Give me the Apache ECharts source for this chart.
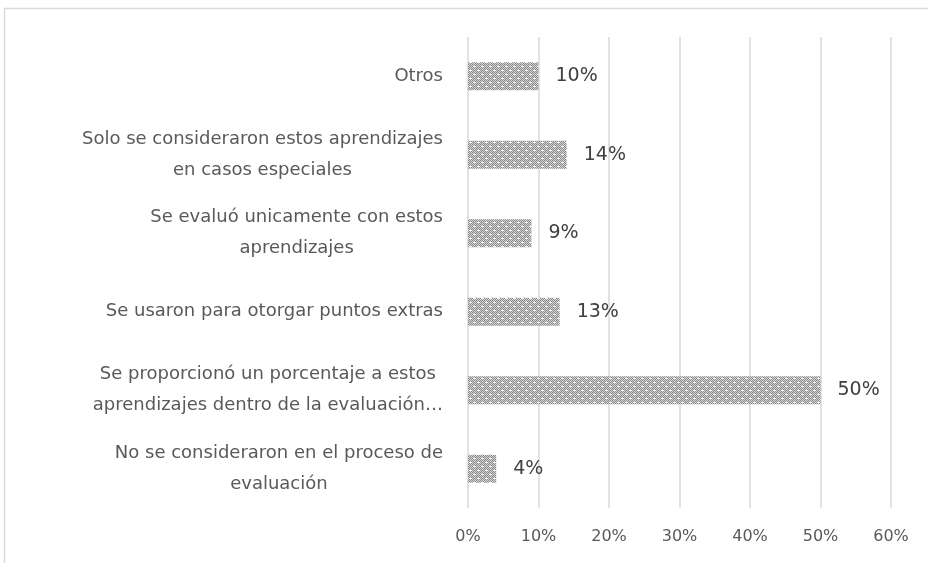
<!DOCTYPE html>
<html>
<head>
<meta charset="utf-8">
<script src="https://cdn.jsdelivr.net/npm/echarts@6/dist/echarts.min.js"></script>
<style>
html,body{margin:0;padding:0;background:#fff;}
#c{width:928px;height:563px;}
</style>
</head>
<body>
<div id="c"></div>
<script>
// Data (top to bottom as displayed)
var categories = [
  'No se consideraron en el proceso de\nevaluación',
  'Se proporcionó un porcentaje a estos\naprendizajes dentro de la evaluación…',
  'Se usaron para otorgar puntos extras',
  'Se evaluó unicamente con estos\naprendizajes',
  'Solo se consideraron estos aprendizajes\nen casos especiales',
  'Otros'
];
var values = [4, 50, 13, 9, 14, 10];
var xTicks = [0, 10, 20, 30, 40, 50, 60];

// pattern fill similar to Excel dotted pattern
function makePattern() {
  var cv = document.createElement('canvas');
  cv.width = 8; cv.height = 8;
  var ctx = cv.getContext('2d');
  for (var y = 0; y < 8; y++) {
    for (var x = 0; x < 8; x++) {
      ctx.fillStyle = ((x + y) % 2 === 0) ? '#8a8a8a' : '#d6d6d6';
      ctx.fillRect(x, y, 1, 1);
    }
  }
  ctx.fillStyle = '#ffffff';
  [[2,2],[1,2],[3,2],[6,6],[5,6],[7,6]].forEach(function(p){
    ctx.fillRect(p[0], p[1], 1, 1);
  });
  return cv;
}

var chart = echarts.init(document.getElementById('c'), null, {renderer: 'canvas'});
var option = {
  animation: false,
  graphic: [{
    type: 'rect',
    shape: {x: 4.5, y: 8.5, width: 1000, height: 1000},
    style: {fill: 'none', stroke: '#d9d9d9', lineWidth: 1.5},
    silent: true
  }],
  grid: {left: 468, right: 37, top: 37, bottom: 55, containLabel: false},
  xAxis: {
    type: 'value',
    min: xTicks[0], max: xTicks[xTicks.length - 1], interval: 10,
    axisLine: {show: false},
    axisTick: {show: false},
    splitLine: {lineStyle: {color: '#d9d9d9', width: 1.5}},
    axisLabel: {
      formatter: function (v) { return v + '%'; },
      color: '#595959',
      fontFamily: 'DejaVu Sans',
      fontSize: 16,
      margin: 21
    }
  },
  yAxis: {
    type: 'category',
    data: categories,
    axisLine: {show: false},
    axisTick: {show: false},
    axisLabel: {
      color: '#595959',
      margin: 25,
      formatter: function (v) {
        return v.split('\n').map(function (l) { return '{a|' + l + '}'; }).join('\n');
      },
      rich: {
        a: {
          fontFamily: 'DejaVu Sans',
          fontSize: 18,
          color: '#595959',
          align: 'center',
          lineHeight: 31
        }
      }
    }
  },
  series: [{
    type: 'bar',
    data: values,
    barWidth: 28,
    itemStyle: {color: {image: makePattern(), repeat: 'repeat'}},
    label: {
      show: true,
      position: 'right',
      distance: 17,
      formatter: function (p) { return p.value + '%'; },
      color: '#404040',
      fontFamily: 'DejaVu Sans',
      fontSize: 19
    }
  }]
};
chart.setOption(option);
</script>
</body>
</html>
